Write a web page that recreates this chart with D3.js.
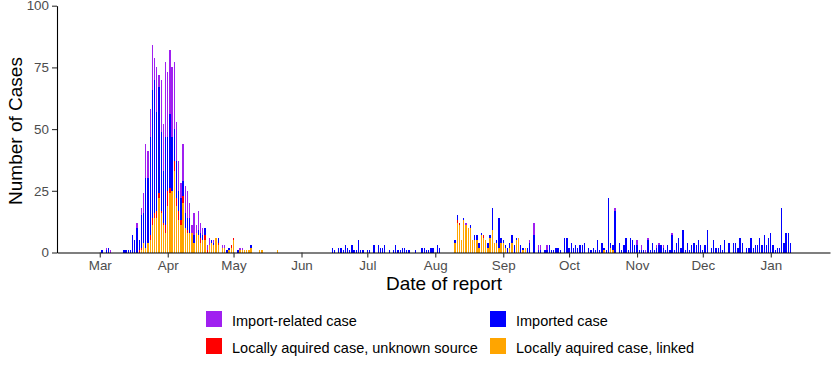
<!DOCTYPE html>
<html>
<head>
<meta charset="utf-8">
<script src="https://cdn.jsdelivr.net/npm/d3@7"></script>
<style>
  body { margin: 0; background: #fff; }
  svg { display: block; font-family: "Liberation Sans", Arial, sans-serif; }
</style>
</head>
<body>
<svg width="840" height="366"></svg>
<script>
// daily counts starting 2020-03-01 (one value per day, 316 days)
const firstDay = "2020-03-01";

const importRelated = [
  0,0,0,1,0,1,0,0,0,0, 0,0,0,0,0,0,0,2,0,3,
  8,14,11,11,18,9,18,5,21,19, 30,26,26,28,27,16,12,6,15,11,
  11,6,3,9,3,8,4,3,0,2, 3,0,1,0,0,0,1,1,0,0,
  0,0,0,0,1,1,0,0,0,0, 0,0,0,0,0,0,0,0,0,0,
  0,0,0,0,0,0,0,0,0,0, 0,0,0,0,0,0,0,0,0,0,
  0,0,0,0,0,0,0,0,0,0, 0,0,0,0,0,0,0,0,0,0,
  0,0,0,0,0,0,0,0,0,0, 0,0,0,0,0,0,0,0,0,0,
  0,0,0,0,0,0,0,0,0,0, 0,0,0,0,0,0,0,0,0,0,
  0,0,0,0,0,0,0,1,0,0, 0,0,0,0,0,0,0,0,0,0,
  0,0,0,0,0,0,0,0,0,0, 0,0,0,0,0,0,1,0,5,0,
  2,2,0,0,2,0,0,0,0,0, 0,0,0,0,0,0,0,0,0,0,
  0,0,0,0,0,0,0,0,0,0, 0,0,0,0,0,1,0,0,0,0,
  0,0,0,0,0,2,0,2,0,1, 1,0,0,0,1,1,0,1,0,0,
  0,1,0,0,0,0,0,0,0,0, 0,0,0,0,0,0,0,0,0,0,
  0,0,0,0,0,0,0,0,0,0, 0,0,0,0,0,0,0,0,0,0,
  0,0,0,0,0,0,0,0,0,0, 0,0,0,0,0,0
];

const imported = [
  0,1,0,1,2,0,0,0,0,0, 0,1,1,1,1,7,5,10,4,13,
  12,28,26,40,52,54,40,43,32,21, 36,22,30,22,13,15,8,9,6,6,
  5,6,0,3,0,2,2,2,3,0, 0,1,1,0,2,0,0,0,1,1,
  0,0,0,1,0,0,0,0,0,1, 0,0,0,0,0,0,0,0,0,0,
  0,0,0,0,0,0,0,0,0,0, 0,0,0,0,0,0,0,0,0,0,
  0,0,0,0,0,0,2,1,0,2, 2,1,3,2,1,3,1,1,5,1,
  1,0,1,1,0,3,0,3,2,2, 3,0,1,0,1,3,1,1,2,2,
  1,1,0,0,1,0,0,2,2,1, 1,2,2,0,3,2,0,0,0,0,
  0,0,1,2,0,0,1,0,0,1, 0,2,2,2,1,0,0,2,1,9,
  0,1,12,2,1,1,2,2,3,3, 1,0,3,1,0,2,4,0,7,0,
  1,1,0,1,1,3,1,1,2,2, 1,0,6,6,2,4,2,3,2,3,
  3,4,0,2,1,2,1,5,1,4, 1,1,22,2,2,17,0,4,1,3,
  6,1,6,5,3,3,1,1,1,0, 5,1,4,1,2,3,3,2,1,3,
  1,7,1,4,6,2,9,1,4,1, 3,4,3,5,3,1,3,9,0,2,
  5,2,2,3,1,5,0,4,0,4, 4,2,6,4,0,2,2,6,2,3,
  3,6,3,7,3,6,8,3,1,2, 2,18,4,8,8,4
];

const localUnknown = [
  0,0,0,0,0,0,0,0,0,0, 0,0,0,0,0,0,0,0,1,1,
  0,0,0,2,3,2,3,2,1,1, 3,6,2,0,4,3,4,2,3,0,
  1,0,0,0,0,0,2,0,2,1, 0,0,0,0,1,0,0,0,0,0,
  1,1,0,0,0,0,0,0,0,0, 0,0,0,0,0,0,0,0,0,0,
  0,0,0,0,0,0,0,0,0,0, 0,0,0,0,0,0,0,0,0,0,
  0,0,0,0,0,0,0,0,0,0, 0,0,0,0,0,0,0,0,0,0,
  0,0,0,0,0,0,0,0,0,0, 0,0,0,0,0,0,0,0,0,0,
  0,0,0,0,0,0,0,0,0,0, 0,0,0,0,0,0,0,0,0,0,
  0,0,0,1,1,0,0,0,0,0, 0,0,0,0,0,1,0,0,0,0,
  0,0,0,0,0,0,0,0,0,0, 0,0,0,0,0,0,0,0,0,0,
  0,0,0,0,0,0,0,0,0,0, 0,0,0,0,0,0,0,0,0,0,
  0,0,0,0,0,0,0,0,0,0, 0,0,0,0,0,0,0,0,0,0,
  0,0,0,0,0,0,0,0,0,0, 0,0,0,0,0,0,0,0,0,0,
  0,0,0,0,0,0,0,0,0,0, 0,0,0,0,0,0,0,0,0,0,
  0,0,0,0,0,0,0,0,0,0, 0,0,0,0,0,0,0,0,0,0,
  0,0,0,0,0,0,0,0,0,0, 0,0,0,0,0,0
];

const localLinked = [
  0,0,0,0,0,0,0,0,0,0, 0,0,0,0,0,0,0,0,0,1,
  4,2,4,5,11,14,14,22,16,11, 8,19,24,25,33,19,13,11,20,10,
  8,8,8,4,8,7,4,5,5,0, 3,4,3,6,3,0,2,2,0,1,
  2,5,0,0,1,1,1,1,1,2, 0,0,0,1,1,0,0,0,0,0,
  0,1,0,0,0,0,0,0,0,0, 0,0,0,0,0,0,0,0,0,0,
  0,0,0,0,0,0,0,0,0,0, 0,0,0,0,0,0,0,0,0,0,
  0,0,0,0,0,0,0,0,0,0, 0,0,0,0,0,0,0,0,0,0,
  0,0,0,0,0,0,0,0,0,0, 0,0,0,0,0,0,0,0,0,0,
  0,0,4,12,11,5,13,11,10,10, 5,5,5,2,7,6,5,2,6,9,
  4,4,2,4,4,2,0,2,4,0, 5,6,0,1,2,0,0,0,0,0,
  0,0,0,0,0,0,0,0,0,0, 0,0,0,0,0,0,0,0,0,0,
  0,0,0,0,0,0,0,0,0,0, 1,0,0,2,1,0,0,0,0,0,
  0,0,0,0,0,0,0,0,0,0, 0,0,0,0,0,0,0,0,0,0,
  0,0,0,0,0,0,0,0,0,0, 0,0,0,0,0,0,0,0,0,0,
  0,0,0,0,0,0,0,0,0,0, 0,0,0,0,0,0,0,0,0,0,
  0,0,0,0,0,0,0,0,0,0, 0,0,0,0,0,0
];

const yTicks = [0, 25, 50, 75, 100];
const monthTicks = ["2020-03-01", "2020-04-01", "2020-05-01", "2020-06-01", "2020-07-01",
  "2020-08-01", "2020-09-01", "2020-10-01", "2020-11-01", "2020-12-01", "2021-01-01"];

// stacking order bottom -> top
const keys = ["localLinked", "localUnknown", "imported", "importRelated"];
const colors = {
  importRelated: "#A020F0",
  imported: "#0000FF",
  localUnknown: "#FF0000",
  localLinked: "#FFA500"
};
const legendItems = [
  { key: "importRelated", label: "Import-related case" },
  { key: "imported", label: "Imported case" },
  { key: "localUnknown", label: "Locally aquired case, unknown source" },
  { key: "localLinked", label: "Locally aquired case, linked" }
];

const parse = d3.timeParse("%Y-%m-%d");
const start = parse(firstDay);
const rows = imported.map((_, i) => ({
  date: d3.timeDay.offset(start, i),
  importRelated: importRelated[i],
  imported: imported[i],
  localUnknown: localUnknown[i],
  localLinked: localLinked[i]
}));

const svg = d3.select("svg");

const x = d3
  .scaleTime()
  .domain([new Date(2020, 1, 10, 12), new Date(2021, 0, 28)])
  .range([57, 830]);
const y = d3.scaleLinear().domain([0, 100]).range([252.5, 5.7]);

const stacked = d3.stack().keys(keys)(rows);
const bw = 1.3;

svg
  .append("g")
  .attr("shape-rendering", "crispEdges")
  .selectAll("g")
  .data(stacked)
  .join("g")
  .attr("fill", (s) => colors[s.key])
  .selectAll("rect")
  .data((s) => s.filter((d) => d[1] > d[0]))
  .join("rect")
  .attr("x", (d) => x(d.data.date) - bw / 2)
  .attr("y", (d) => y(d[1]))
  .attr("width", bw)
  .attr("height", (d) => y(d[0]) - y(d[1]));

// axes
const yAxis = svg
  .append("g")
  .attr("transform", "translate(57,0)")
  .call(d3.axisLeft(y).tickValues(yTicks).tickSize(5).tickPadding(3).tickSizeOuter(0));

const xAxis = svg
  .append("g")
  .attr("transform", "translate(0,252.5)")
  .call(
    d3
      .axisBottom(x)
      .tickValues(monthTicks.map(parse))
      .tickFormat(d3.timeFormat("%b"))
      .tickSize(5)
      .tickPadding(3)
      .tickSizeOuter(0)
  );

[xAxis, yAxis].forEach((g) => {
  g.select(".domain").attr("stroke", "#000").attr("stroke-width", 1.1);
  g.selectAll(".tick line").attr("stroke", "#333").attr("stroke-width", 1.1);
  g.selectAll(".tick text")
    .attr("fill", "#4d4d4d")
    .style("font-size", "13.4px")
    .style("font-family", '"Liberation Sans", Arial, sans-serif');
});

svg
  .append("text")
  .attr("x", 444)
  .attr("y", 290)
  .attr("text-anchor", "middle")
  .style("font-size", "19px")
  .text("Date of report");

svg
  .append("text")
  .attr("transform", "translate(22,131) rotate(-90)")
  .attr("text-anchor", "middle")
  .style("font-size", "19px")
  .text("Number of Cases");

// legend, 2 x 2
const legend = svg
  .append("g")
  .selectAll("g")
  .data(legendItems)
  .join("g")
  .attr("transform", (d, i) => `translate(${i % 2 ? 490 : 206},${i < 2 ? 311 : 338})`);

legend
  .append("rect")
  .attr("width", 16)
  .attr("height", 16)
  .attr("fill", (d) => colors[d.key]);

legend
  .append("text")
  .attr("x", 26)
  .attr("y", 14.5)
  .style("font-size", "14.5px")
  .text((d) => d.label);
</script>
</body>
</html>
